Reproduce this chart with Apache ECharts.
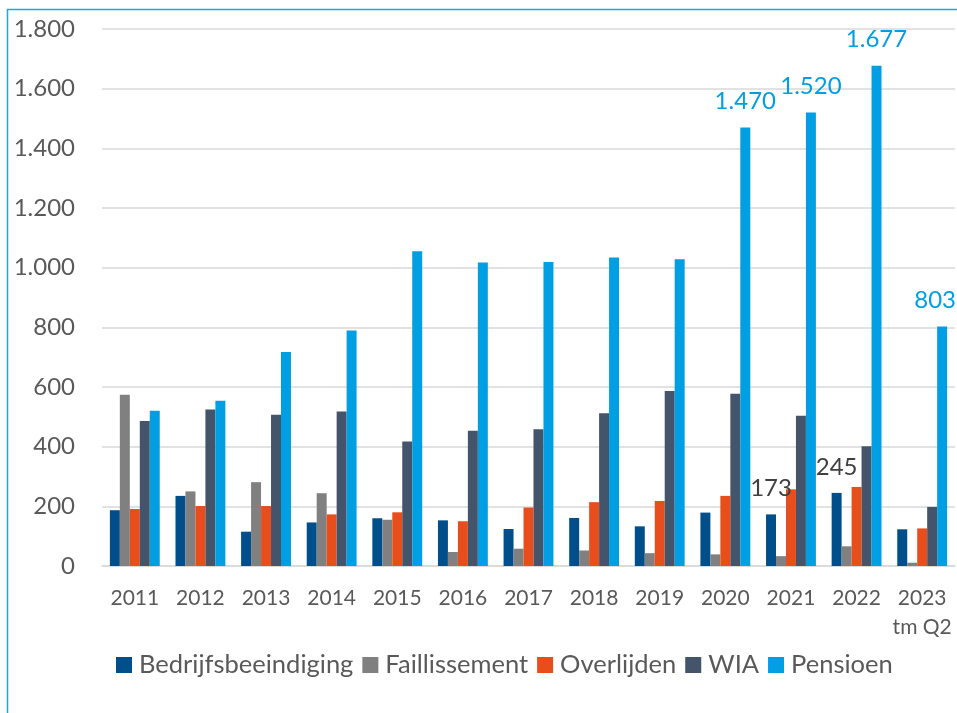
<!DOCTYPE html>
<html>
<head>
<meta charset="utf-8">
<script src="https://cdn.jsdelivr.net/npm/echarts@6/dist/echarts.min.js"></script>
<style>
  html, body { margin: 0; padding: 0; background: #fff; }
  #chart { width: 957px; height: 713px; }
</style>
</head>
<body>
<div id="chart"></div>
<script>
var years = ['2011', '2012', '2013', '2014', '2015', '2016', '2017', '2018', '2019', '2020', '2021', '2022', '2023\ntm Q2'];
var bedrijfsbeeindiging = [187, 235, 115, 146, 160, 153, 124, 161, 133, 179, 173, 245, 123];
var faillissement = [574, 250, 281, 244, 155, 47, 58, 52, 43, 39, 33, 66, 11];
var overlijden = [191, 201, 201, 173, 180, 150, 196, 214, 218, 235, 257, 265, 126];
var wia = [486, 525, 507, 518, 417, 453, 458, 512, 587, 577, 504, 401, 198];
var pensioen = [520, 554, 717, 789, 1055, 1017, 1019, 1034, 1028, 1470, 1520, 1677, 803];
// which bars carry a value label
var labelBedrijfs = [10, 11];
var labelPensioen = [9, 10, 11, 12];

var font = 'Lato, "Open Sans", sans-serif';
var textColor = '#595959';

function nl(v) {
  return String(v).replace(/\B(?=(\d{3})+(?!\d))/g, '.');
}

function withLabels(values, idx, color, shiftLast) {
  return values.map(function (v, i) {
    if (idx.indexOf(i) < 0) return v;
    var item = { value: v, label: { show: true, position: 'top', distance: 14, color: color,
      fontSize: 24, fontFamily: font, formatter: function (p) { return nl(p.value); } } };
    if (shiftLast && i === values.length - 1) item.label.offset = [-7, 0];
    return item;
  });
}

var chart = echarts.init(document.getElementById('chart'));

var option = {
  animation: false,
  backgroundColor: '#fff',
  textStyle: { fontFamily: font, color: textColor },
  graphic: [{
    type: 'rect',
    shape: { x: 7.5, y: 9.5, width: 1100, height: 900 },
    style: { fill: 'none', stroke: '#1BA7E2', lineWidth: 1.5 },
    silent: true
  }],
  grid: { left: 102, right: 2, top: 29, bottom: 147 },
  legend: {
    left: 116,
    top: 652,
    padding: 0,
    itemWidth: 16,
    itemHeight: 16,
    itemGap: 9,
    icon: 'rect',
    textStyle: { fontSize: 25.5, color: textColor, fontFamily: font, padding: [0, 0, 0, 2] },
    data: ['Bedrijfsbeeindiging', 'Faillissement', 'Overlijden', 'WIA', 'Pensioen']
  },
  xAxis: {
    type: 'category',
    data: years,
    axisTick: { show: false },
    axisLine: { lineStyle: { color: '#D9D9D9', width: 1.5 } },
    axisLabel: { interval: 0, color: textColor, fontSize: 21, fontFamily: font, margin: 18, lineHeight: 29 }
  },
  yAxis: {
    type: 'value',
    min: 0,
    max: 1800,
    interval: 200,
    axisLine: { show: false },
    axisTick: { show: false },
    splitLine: { lineStyle: { color: '#D9D9D9', width: 1.5 } },
    axisLabel: { color: textColor, fontSize: 24, fontFamily: font, margin: 27, formatter: nl }
  },
  series: [
    { name: 'Bedrijfsbeeindiging', type: 'bar', barGap: '0%', barCategoryGap: '24%',
      itemStyle: { color: '#004F8A' }, data: withLabels(bedrijfsbeeindiging, labelBedrijfs, '#404040') },
    { name: 'Faillissement', type: 'bar', itemStyle: { color: '#808080' }, data: faillissement },
    { name: 'Overlijden', type: 'bar', itemStyle: { color: '#E84E1B' }, data: overlijden },
    { name: 'WIA', type: 'bar', itemStyle: { color: '#44546A' }, data: wia },
    { name: 'Pensioen', type: 'bar', itemStyle: { color: '#009FE3' },
      data: withLabels(pensioen, labelPensioen, '#009FE3', true) }
  ]
};

chart.setOption(option);
</script>
</body>
</html>
